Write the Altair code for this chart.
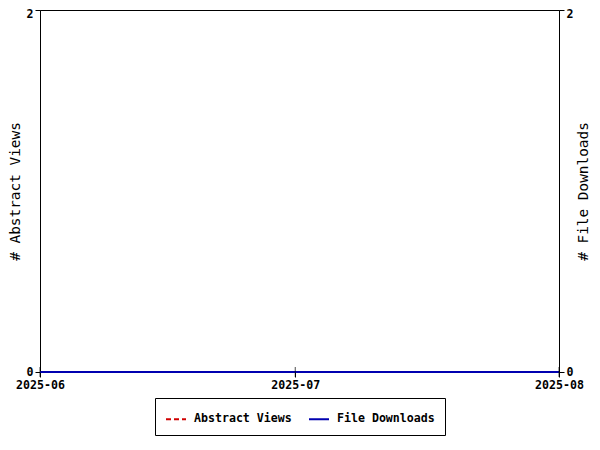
import altair as alt
import pandas as pd

# ---- data ----
months = ["2025-06-01", "2025-07-01", "2025-08-01"]
abstract_views = [0, 0, 0]
file_downloads = [0, 0, 0]
series_names = ["Abstract Views", "File Downloads"]
y_ticks = [0, 2]
x_tick_months = [6, 7, 8]

rows = []
for d, v in zip(months, abstract_views):
    rows.append({"date": d, "value": v, "series": series_names[0]})
for d, v in zip(months, file_downloads):
    rows.append({"date": d, "value": v, "series": series_names[1]})
df = pd.DataFrame(rows)

tick_df = pd.DataFrame({
    "date": ["2025-%02d-01" % m for m in x_tick_months],
    "value": [0] * len(x_tick_months),
})

FONT = "DejaVu Sans Mono"
RED = "#d00000"
BLUE = "#0000b0"
LABEL_SIZE = 11.6
TITLE_SIZE = 14.4

x_scale = alt.Scale(
    type="utc",
    domain=[alt.DateTime(year=2025, month=6, date=1, utc=True),
            alt.DateTime(year=2025, month=8, date=1, utc=True)],
)
x_enc = alt.X(
    "date:T",
    scale=x_scale,
    axis=alt.Axis(
        title=None,
        labelExpr="utcFormat(datum.value, '%Y-%m')",
        values=[alt.DateTime(year=2025, month=m, date=1, utc=True) for m in x_tick_months],
        labelFlush=False,
        labelOverlap=False,
        grid=False,
    ),
)

color_enc = alt.Color(
    "series:N",
    scale=alt.Scale(domain=series_names, range=[RED, BLUE]),
    legend=alt.Legend(
        title=None,
        orient="none",
        legendX=115,
        legendY=388,
        direction="horizontal",
        symbolType="stroke",
        symbolSize=400,
        symbolStrokeWidth=2,
        strokeColor="black",
        fillColor="white",
        padding=10,
        labelOffset=7,
        columnPadding=13,
        labelFont=FONT,
        labelFontWeight="bold",
        labelFontSize=LABEL_SIZE,
        labelColor="black",
    ),
)
dash_enc = alt.StrokeDash(
    "series:N",
    scale=alt.Scale(domain=series_names, range=[[5, 3], [1, 0]]),
    legend=None,
)

top_label_offset = {"condition": {"test": "datum.value == 2", "value": -2}, "value": 0}
top_label_baseline = {"condition": {"test": "datum.value == 2", "value": "top"}, "value": "middle"}

left = alt.Chart(df).transform_filter(
    alt.datum.series == series_names[0]
).mark_line(strokeWidth=2).encode(
    x=x_enc,
    y=alt.Y(
        "value:Q",
        scale=alt.Scale(domain=[0, 2], nice=False),
        axis=alt.Axis(title="# Abstract Views", orient="left", values=y_ticks,
                      grid=False, titlePadding=4, labelOffset=top_label_offset,
                      labelBaseline=top_label_baseline),
    ),
    color=color_enc,
    strokeDash=dash_enc,
)

right_y = alt.Y(
    "value:Q",
    scale=alt.Scale(domain=[0, 2], nice=False),
    axis=alt.Axis(title="# File Downloads", orient="right", values=y_ticks,
                  grid=False, titleAngle=270, titlePadding=18,
                  labelOffset=top_label_offset, labelBaseline=top_label_baseline),
)

right_line = alt.Chart(df).transform_filter(
    alt.datum.series == series_names[1]
).mark_line(strokeWidth=2).encode(
    x=x_enc,
    y=right_y,
    color=color_enc,
    strokeDash=dash_enc,
)

ticks = alt.Chart(tick_df).mark_tick(
    orient="vertical", color="black", thickness=1, size=10
).encode(x=x_enc, y=right_y)

right = alt.layer(right_line, ticks)

chart = alt.layer(left, right).resolve_scale(y="independent").properties(
    width=519,
    height=362,
    autosize=alt.AutoSizeParams(type="none"),
    padding={"left": 32, "top": 2, "right": 33, "bottom": 70},
).configure_view(
    stroke="black", strokeWidth=1
).configure_axis(
    domainColor="black",
    tickColor="black",
    labelColor="black",
    titleColor="black",
    labelFont=FONT,
    labelFontWeight="bold",
    labelFontSize=LABEL_SIZE,
    titleFont=FONT,
    titleFontWeight="normal",
    titleFontSize=TITLE_SIZE,
    tickSize=5,
    labelPadding=2,
)

chart.save("out.html", embed_options={"renderer": "svg", "actions": False})
